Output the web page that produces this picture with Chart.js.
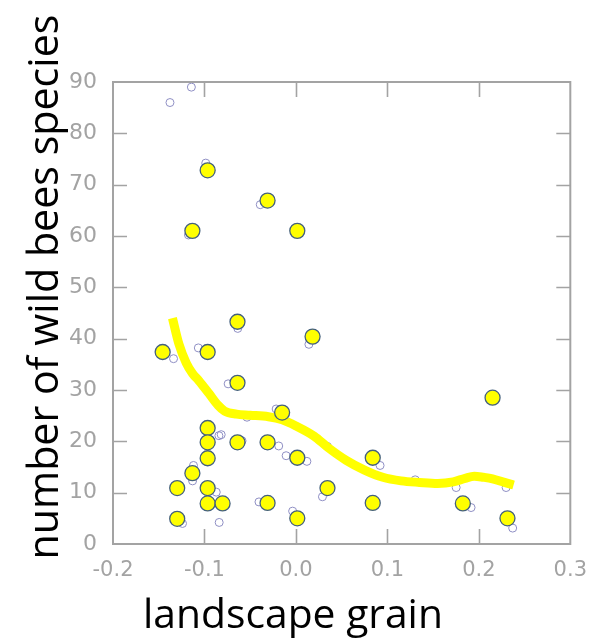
<!DOCTYPE html>
<html>
<head>
<meta charset="utf-8">
<script src="https://cdn.jsdelivr.net/npm/chart.js@4/dist/chart.umd.min.js"></script>
<style>
  html, body { margin: 0; padding: 0; background: #ffffff; }
  #wrap { width: 593px; height: 642px; }
</style>
</head>
<body>
<div id="wrap"><canvas id="c" width="593" height="642"></canvas></div>
<script>
// ---- data ----
const xTickValues = [-0.2, -0.1, 0.0, 0.1, 0.2, 0.3];
const yTickValues = [0, 10, 20, 30, 40, 50, 60, 70, 80, 90];
const xTitle = "landscape grain";
const yTitle = "number of wild bees species";

// small hollow circles
const hollowX = [-0.1377, -0.1143, -0.0986, -0.1175, -0.039, -0.1338, -0.1067, -0.0636, -0.0741,
  -0.0842, -0.0817, -0.0589, -0.112, -0.113, -0.0871, -0.124, -0.0839, -0.0404,
  0.0142, -0.0216, -0.0188, -0.0107, 0.012, 0.029, 0.0345, -0.0036, 0.092, 0.1304,
  0.1915, 0.237, 0.1752, 0.2298, -0.0535];
const hollowY = [86.0, 89.0, 74.2, 60.2, 66.1, 36.1, 38.2, 42.0, 31.2,
  21.1, 21.3, 20.1, 15.3, 12.3, 10.1, 4.0, 4.2, 8.2,
  38.9, 26.3, 19.1, 17.2, 16.1, 9.2, 19.0, 6.4, 15.3, 12.5,
  7.1, 3.1, 11.0, 11.0, 24.7];

// large yellow circles
const yellowX = [-0.0965, -0.1132, -0.031, 0.0015, -0.1457, -0.0965, -0.0639, -0.0639, -0.0965,
  -0.0965, -0.0965, -0.0639, -0.1132, -0.1298, -0.0965, -0.0965, -0.0802, -0.1298,
  0.0182, -0.0151, -0.031, 0.0015, 0.0345, -0.031, 0.0015, 0.084, 0.084, 0.215, 0.1825, 0.2313];
const yellowY = [72.8, 61.0, 66.9, 61.0, 37.4, 37.4, 43.3, 31.4, 22.6,
  19.8, 16.7, 19.8, 13.8, 10.9, 10.9, 7.9, 7.9, 4.9,
  40.4, 25.6, 19.8, 16.8, 10.9, 8.0, 5.0, 16.8, 8.0, 28.5, 7.9, 5.0];

// smoothed (loess-like) trend line
const trendX = [-0.135, -0.128, -0.12, -0.113, -0.106, -0.095, -0.085, -0.078, -0.065, -0.05, -0.03,
  -0.015, 0.0, 0.02, 0.035, 0.055, 0.075, 0.095, 0.115, 0.135, 0.155, 0.172, 0.185, 0.195, 0.205,
  0.215, 0.228, 0.238];
const trendY = [44.0, 39.0, 35.3, 33.2, 31.8, 29.3, 27.0, 25.9, 25.3, 25.1, 24.8,
  24.2, 23.0, 21.0, 18.8, 16.3, 14.4, 13.0, 12.3, 12.0, 11.8, 12.1, 12.8, 13.2, 13.0,
  12.7, 12.0, 11.5];

const toPts = (xs, ys) => xs.map((x, i) => ({ x: x, y: ys[i] }));

const GRAY = '#a3a3a3';

const framePlugin = {
  id: 'frameTicks',
  afterDatasetsDraw(chart) {
    const { ctx, chartArea: a, scales } = chart;
    const xs = scales.x, ys = scales.y;
    ctx.save();
    ctx.strokeStyle = GRAY;
    ctx.lineWidth = 2;
    ctx.strokeRect(a.left, a.top, a.right - a.left, a.bottom - a.top);
    ctx.lineWidth = 1.6;
    ctx.beginPath();
    xTickValues.slice(1, -1).forEach(v => {
      const px = Math.round(xs.getPixelForValue(v)) + 0.5;
      ctx.moveTo(px, a.bottom); ctx.lineTo(px, a.bottom - 15);
      ctx.moveTo(px, a.top); ctx.lineTo(px, a.top + 15);
    });
    yTickValues.slice(1, -1).forEach(v => {
      const py = Math.round(ys.getPixelForValue(v)) + 0.5;
      ctx.moveTo(a.left, py); ctx.lineTo(a.left + 14, py);
      ctx.moveTo(a.right, py); ctx.lineTo(a.right - 14, py);
    });
    ctx.stroke();
    ctx.restore();
  },
  afterDraw(chart) {
    const ctx = chart.ctx;
    ctx.save();
    ctx.fillStyle = '#000000';
    ctx.textAlign = 'center';
    ctx.textBaseline = 'middle';
    // x title, fitted to the reference width
    let size = 40;
    ctx.font = size + 'px "Open Sans"';
    let w = ctx.measureText(xTitle).width;
    size = size * 300 / w;
    ctx.font = size + 'px "Open Sans"';
    ctx.fillText(xTitle, 293, 616);
    // y title
    let s2 = 40;
    ctx.font = s2 + 'px "Open Sans"';
    w = ctx.measureText(yTitle).width;
    s2 = s2 * 545 / w;
    ctx.font = s2 + 'px "Open Sans"';
    ctx.translate(46, 287);
    ctx.rotate(-Math.PI / 2);
    ctx.fillText(yTitle, 0, 0);
    ctx.restore();
  }
};

new Chart(document.getElementById('c'), {
  type: 'scatter',
  data: {
    datasets: [
      {
        label: 'sites',
        data: toPts(hollowX, hollowY),
        pointRadius: 4,
        pointBorderWidth: 1,
        pointBorderColor: '#8f8fc4',
        pointBackgroundColor: 'rgba(255,255,255,0)',
        order: 3
      },
      {
        type: 'line',
        label: 'trend',
        data: toPts(trendX, trendY),
        borderColor: '#ffff00',
        borderWidth: 9,
        pointRadius: 0,
        tension: 0.4,
        cubicInterpolationMode: 'monotone',
        fill: false,
        order: 2
      },
      {
        label: 'means',
        data: toPts(yellowX, yellowY),
        pointRadius: 7.5,
        pointBorderWidth: 1.3,
        pointBorderColor: '#44607e',
        pointBackgroundColor: '#ffff00',
        order: 1
      }
    ]
  },
  options: {
    responsive: false,
    animation: false,
    devicePixelRatio: 1,
    layout: { padding: { left: 0, top: 82, right: 19, bottom: 0 } },
    plugins: { legend: { display: false }, tooltip: { enabled: false } },
    scales: {
      x: {
        type: 'linear',
        min: -0.2, max: 0.3,
        afterBuildTicks: s => { s.ticks = xTickValues.map(v => ({ value: v })); },
        afterFit: s => { s.height = 98; },
        grid: { display: false },
        border: { display: false },
        ticks: {
          color: GRAY,
          padding: 6,
          font: { family: '"DejaVu Sans", sans-serif', size: 21 },
          callback: v => Number(v).toFixed(1)
        }
      },
      y: {
        type: 'linear',
        min: 0, max: 90,
        afterBuildTicks: s => { s.ticks = yTickValues.map(v => ({ value: v })); },
        afterFit: s => { s.width = 113; },
        grid: { display: false },
        border: { display: false },
        ticks: {
          color: GRAY,
          padding: 8,
          font: { family: '"DejaVu Sans", sans-serif', size: 22 },
          callback: v => String(v)
        }
      }
    }
  },
  plugins: [framePlugin]
});
</script>
</body>
</html>
